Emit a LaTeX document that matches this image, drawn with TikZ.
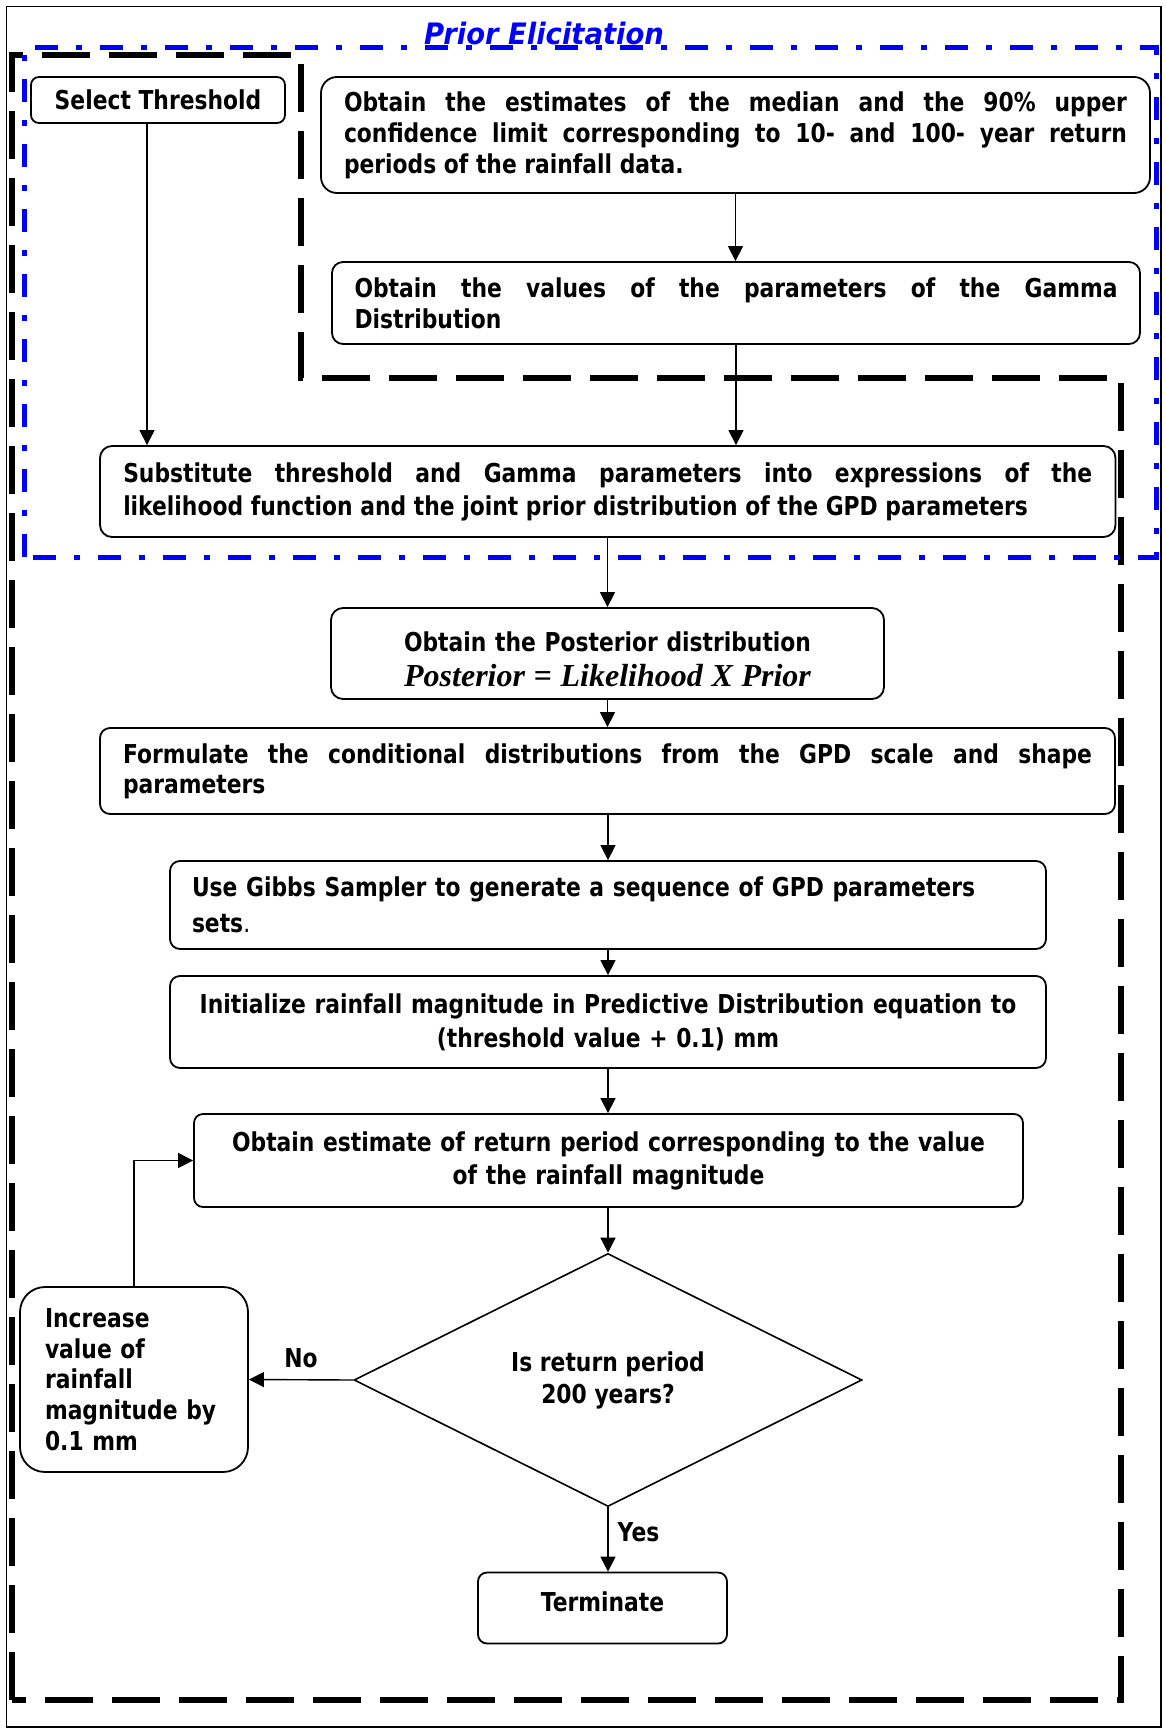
\documentclass[tikz,border=0pt]{standalone}
\usepackage{fontspec}
\setmainfont{DejaVu Sans}[FakeStretch=0.84]
\newfontfamily\titlefont{DejaVu Sans}[FakeStretch=0.93]
\newfontfamily\timesfont{Liberation Serif}
\usetikzlibrary{shapes.geometric,arrows.meta}
\newcommand\bodyfnt{\bfseries\fontsize{26}{32}\selectfont}
\begin{document}
\begin{tikzpicture}[x=1pt,y=-1pt,
  box/.style={draw, line width=1.8pt, rounded corners=9pt, inner sep=0pt, font=\bodyfnt, align=center},
  jbox/.style={box, align=justify, execute at begin node={\tolerance=10000\relax}},
  arr/.style={line width=1.4pt, -{Triangle[length=15pt,width=15pt]}},
  lbl/.style={font=\bodyfnt, inner sep=0pt},
  blk/.style={line width=6pt, dash pattern=on 48pt off 19pt},
  blu/.style={line width=5pt, blue, dash pattern=on 23pt off 18pt on 6pt off 18pt},
]
\useasboundingbox (0,0) rectangle (1165,1731);
% outer frame
\draw[line width=1.8pt] (6.5,6.5) rectangle (1161,1727);
% black dashed region
\draw[blk] (12,1700) -- (12,55) -- (301,55) -- (301,378) -- (1121,378) -- (1121,1700) -- cycle;
% blue prior elicitation region
\draw[blu] (24,557) -- (24,48) -- (1156,48) -- (1156,557) -- cycle;
\node[font={\titlefont\bfseries\itshape\fontsize{29.5}{30}\selectfont}, text=blue, anchor=base, inner sep=0pt] (ttl) at (544,45) {Prior Elicitation};

% nodes
\node[box, rounded corners=8pt, minimum width=254pt, minimum height=46pt] (sel) at (158,100) {Select Threshold};
\node[jbox, rounded corners=16pt, text width=783pt, minimum width=829pt, minimum height=116pt, font=\bfseries\fontsize{26}{31}\selectfont] (est) at (735.5,135)
 {Obtain the estimates of the median and the 90\% upper\linebreak confidence limit corresponding to 10- and 100- year return\linebreak periods of the rainfall data.};
\node[jbox, rounded corners=11pt, text width=763pt, minimum width=808pt, minimum height=82pt, font=\bfseries\fontsize{26}{31}\selectfont] (gam) at (736,303)
 {Obtain the values of the parameters of the Gamma\linebreak Distribution};
\node[jbox, rounded corners=12pt, text width=969pt, minimum width=1015.5pt, minimum height=91pt, font=\bfseries\fontsize{26}{33}\selectfont] (sub) at (607.75,491.5)
 {Substitute threshold and Gamma parameters into expressions of the\linebreak likelihood function and the joint prior distribution of the GPD parameters};
\node[box, rounded corners=12pt, text width=520pt, minimum width=553pt, minimum height=91pt] (post) at (607.5,653.5)
 {\rule{0pt}{32pt}Obtain the Posterior distribution\\[3pt]{\timesfont\bfseries\itshape\fontsize{32}{32}\selectfont Posterior = Likelihood X Prior}};
\node[jbox, rounded corners=10pt, text width=969pt, minimum width=1015pt, minimum height=86pt, font=\bfseries\fontsize{26}{30}\selectfont] (form) at (607.5,771)
 {Formulate the conditional distributions from the GPD scale and shape\linebreak parameters};
\node[box, align=left, rounded corners=10pt, inner xsep=22pt, text width=832pt, minimum width=876pt, minimum height=88pt, font=\bfseries\fontsize{26}{36}\selectfont] (gibbs) at (608,905)
 {Use Gibbs Sampler to generate a sequence of GPD parameters\\sets\textmd{.}};
\node[box, rounded corners=10pt, text width=860pt, minimum width=876pt, minimum height=92pt, font=\bfseries\fontsize{26}{34}\selectfont] (init) at (608,1022)
 {Initialize rainfall magnitude in Predictive Distribution equation to\\(threshold value + 0.1) mm};
\node[box, rounded corners=9pt, text width=810pt, minimum width=829pt, minimum height=93pt, font=\bfseries\fontsize{26}{33}\selectfont] (ret) at (608.5,1160.5)
 {Obtain estimate of return period corresponding to the value\\of the rainfall magnitude};
\node[draw, diamond, line width=1.6pt, minimum width=508pt, minimum height=253pt, inner sep=0pt, font=\bfseries\fontsize{26}{32}\selectfont, align=center] (dia) at (608,1380)
 {Is return period\\200 years?};
\node[box, align=left, rounded corners=25pt, inner xsep=25pt, text width=178pt, minimum width=228pt, minimum height=185pt, font=\bfseries\fontsize{26}{30.7}\selectfont] (inc) at (134,1379.5)
 {Increase\\value of\\rainfall\\magnitude by\\0.1 mm};
\node[box, rounded corners=9pt, minimum width=249pt, minimum height=71pt] (term) at (602.5,1608) {\rule[-12pt]{0pt}{12pt}Terminate};

% connectors
\coordinate (selout) at ([xshift=-11pt]sel.south);
\draw[arr] (selout) -- (selout |- sub.north);
\draw[arr] (est.south) -- (est.south |- gam.north);
\draw[arr] (gam.south) -- (gam.south |- sub.north);
\draw[arr] (post.north |- sub.south) -- (post.north);
\draw[arr] (post.south) -- (post.south |- form.north);
\draw[arr] (gibbs.north |- form.south) -- (gibbs.north);
\draw[arr] (gibbs.south) -- (gibbs.south |- init.north);
\draw[arr] (init.south) -- (init.south |- ret.north);
\draw[arr] (dia.north |- ret.south) -- (dia.north);
\draw[arr] (dia.west) -- node[lbl, anchor=base, yshift=12pt] (nolbl) {No} (inc.east);
\draw[arr] (dia.south) -- node[lbl, anchor=base west, xshift=9pt, yshift=-2.5pt] (yeslbl) {Yes} (dia.south |- term.north);
\draw[arr] (inc.north) |- (ret.west);
\end{tikzpicture}
\end{document}
